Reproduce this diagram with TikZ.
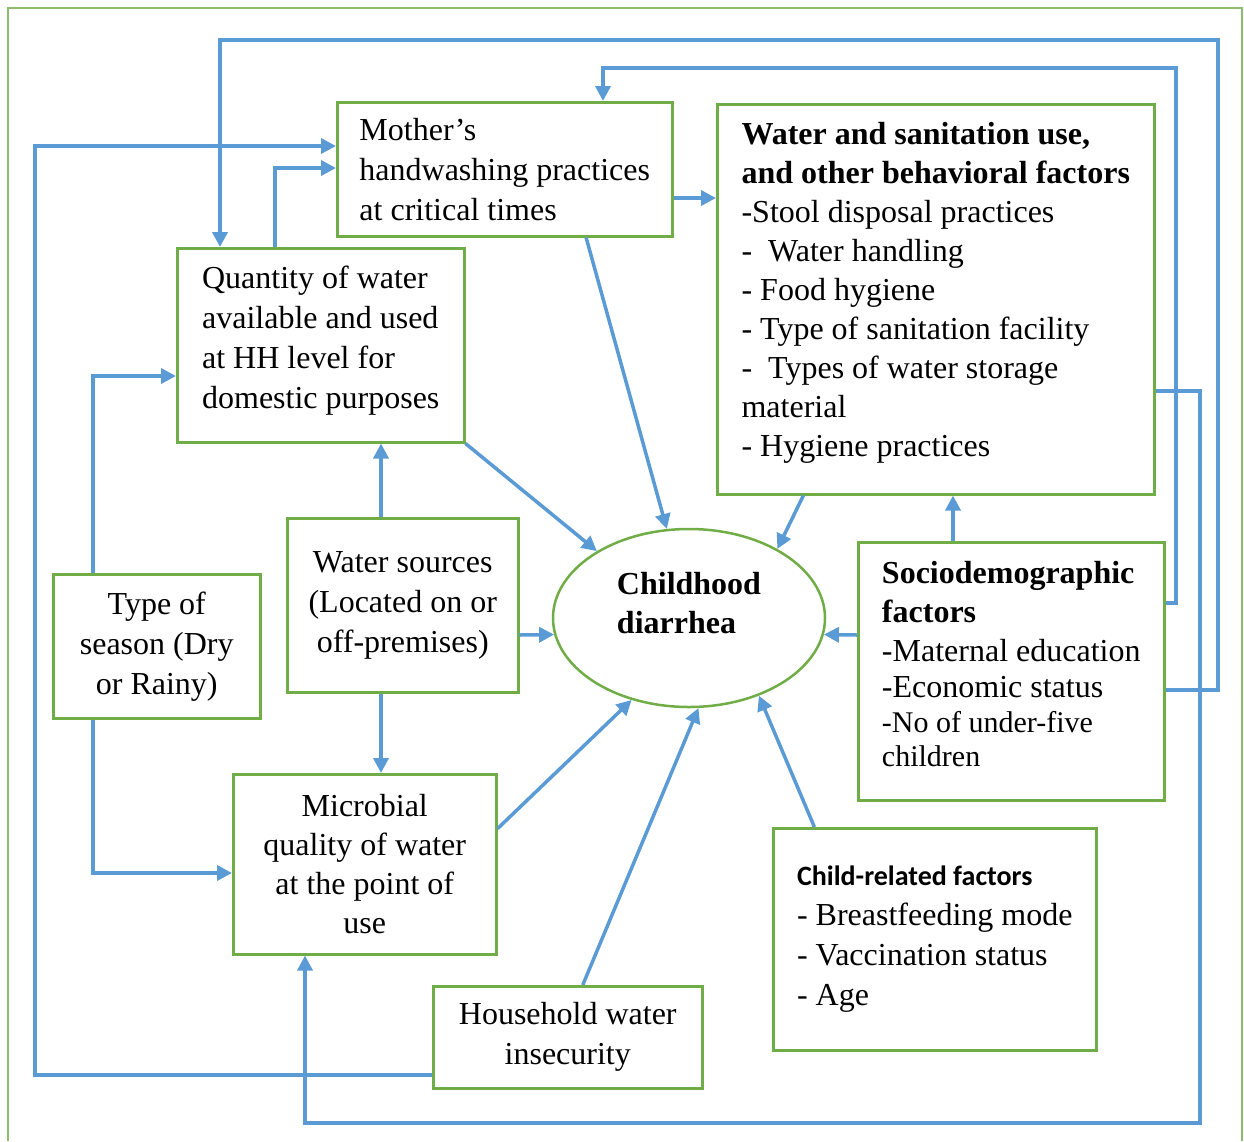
\documentclass[tikz,border=0pt]{standalone}
\usepackage{fontspec}
\setmainfont{Liberation Serif}
\newfontfamily\calibri{Carlito}
\usetikzlibrary{positioning,arrows.meta,shapes.geometric}
\definecolor{boxgreen}{RGB}{112,173,71}
\definecolor{linkblue}{RGB}{91,155,213}

\begin{document}
\begin{tikzpicture}[x=1pt,y=-1pt,
  box/.style={draw=boxgreen, line width=2.5pt, anchor=north west, inner sep=0pt, align=left, font=\fontsize{32}{40}\selectfont},
  link/.style={draw=linkblue, line width=3.5pt, -{Triangle[length=15pt,width=15pt]}}]

\useasboundingbox (0,0) rectangle (1244,1141);

\draw[boxgreen!80, line width=2pt] (8,1141) -- (8,8) -- (1242,8) -- (1242,1141);

\node[box, minimum width=335pt, minimum height=134pt] (mother) at (336,101) {Mother’s\\handwashing practices\\at critical times};

\node[box, minimum width=437pt, minimum height=390pt, text depth=19pt, font=\fontsize{32}{39}\selectfont] (wash) at (716,103) {\textbf{Water and sanitation use,}\\\textbf{and other behavioral factors}\\-Stool disposal practices\\-\ \ Water handling\\- Food hygiene\\- Type of sanitation facility\\-\ \ Types of water storage\\material\\- Hygiene practices};

\node[box, minimum width=287pt, minimum height=194pt, text depth=17pt] (quant) at (176,247) {Quantity of water\\available and used\\at HH level for\\domestic purposes};

\node[box, align=center, minimum width=231pt, minimum height=174pt] (src) at (286,517) {Water sources\\(Located on or\\off-premises)};

\node[box, align=center, minimum width=207pt, minimum height=144pt] (season) at (52,573) {Type of\\season (Dry\\or Rainy)};

\node[box, align=center, minimum width=263pt, minimum height=180pt, font=\fontsize{32}{39}\selectfont] (micro) at (232,773) {Microbial\\quality of water\\at the point of\\use};

\node[box, align=center, minimum width=269pt, minimum height=102pt] (house) at (432,985) {Household water\\insecurity};

\node[box, minimum width=323pt, minimum height=222pt] (child) at (772,827) {{\calibri\bfseries\fontsize{28}{34}\selectfont Child-related factors}\\- Breastfeeding mode\\- Vaccination status\\- Age};

\node[box, minimum width=306pt, minimum height=258pt, text depth=14pt, font=\fontsize{32}{39}\selectfont] (socio) at (857,541) {\textbf{Sociodemographic}\\\textbf{factors}\\-Maternal education\\[-3pt]-Economic status\\[-4pt]{\fontsize{30}{35}\selectfont -No of under-five}\\[-5pt]{\fontsize{30}{35}\selectfont children}};

\node[draw=boxgreen, line width=2.5pt, ellipse, minimum width=272pt, minimum height=178pt, inner sep=0pt, align=left, text depth=30pt, font=\bfseries\fontsize{32}{39}\selectfont] (dia) at (689,618) {Childhood\\diarrhea};

% bend points of the long connectors
\coordinate (outerR) at (1218,690);
\coordinate (outerL) at (220,40);
\coordinate (innerR) at (1176,603);
\coordinate (innerL) at (603,68);
\coordinate (loopR) at (1200,391);
\coordinate (loopB) at (305,1123);
\coordinate (loopL) at (35,1075);
\coordinate (handIn) at (35,146);
\coordinate (quantUp) at (275,168);
\coordinate (seasonUp) at (93,376);
\coordinate (seasonDown) at (93,873);
\coordinate (srcAxis) at (381,604);
\coordinate (sideRow) at (689,635);
\coordinate (washRow) at (694,198);
\coordinate (socioAxis) at (953,517);

\draw[link] (socio.east |- outerR) -- (outerR) -- (outerR |- outerL) -- (outerL) -- (outerL |- quant.north);
\draw[link] (socio.east |- innerR) -- (innerR) -- (innerR |- innerL) -- (innerL) -- (innerL |- mother.north);
\draw[link] (wash.east |- loopR) -- (loopR) -- (loopR |- loopB) -- (loopB) -- (loopB |- micro.south);
\draw[link] (house.west |- loopL) -- (loopL) -- (handIn) -- (handIn -| mother.west);
\draw[link] (quantUp |- quant.north) -- (quantUp) -- (quantUp -| mother.west);
\draw[link] (seasonUp |- season.north) -- (seasonUp) -- (seasonUp -| quant.west);
\draw[link] (seasonDown |- season.south) -- (seasonDown) -- (seasonDown -| micro.west);
\draw[link] (washRow -| mother.east) -- (washRow -| wash.west);
\draw[link] (srcAxis |- src.north) -- (srcAxis |- quant.south);
\draw[link] (srcAxis |- src.south) -- (srcAxis |- micro.north);
\draw[link] (socioAxis |- socio.north) -- (socioAxis |- wash.south);

% straight arrows into the ellipse
\draw[link] (sideRow -| src.east) -- (dia.187);
\draw[link] (sideRow -| socio.west) -- (dia.-7);
\draw[link] (mother.-40.5) -- (dia.104);
\draw[link] (quant.south east) -- (dia.144);
\draw[link] (micro.15.6) -- (dia.235);
\draw[link] (house.74) -- (dia.276);
\draw[link] (child.137) -- (dia.312);
\draw[link] (wash.236.4) -- (dia.38);
\end{tikzpicture}
\end{document}
